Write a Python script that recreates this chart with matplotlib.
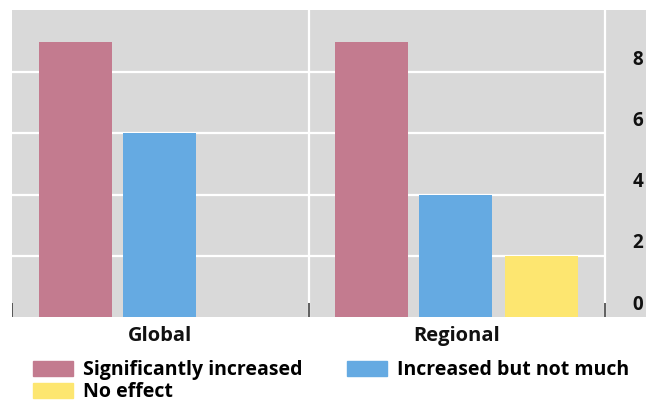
import matplotlib
matplotlib.use('Agg')
from matplotlib import pyplot as plt
from matplotlib.patches import Patch

# Survey results, two panels with three response categories each
groups = ['Global', 'Regional']
series_names = ['Significantly increased', 'Increased but not much', 'No effect']
global_vals = [9, 6, 0]
regional_vals = [9, 4, 2]
yticks = [0, 2, 4, 6, 8]

colors = ['#c37b8f', '#65aae2', '#fde670']
bg = '#d9d9d9'

plt.rcParams['font.family'] = ['Open Sans', 'DejaVu Sans']

fig = plt.figure(figsize=(6.46, 4.05), dpi=100)
ax = fig.add_axes([12/646, (405-317)/405, 634/646, (317-10)/405])
ax.set_facecolor(bg)
ax.set_xlim(0, 2 + 41/296.5)
ax.set_ylim(0, 10.03)
for s in ax.spines.values():
    s.set_visible(False)
ax.set_xticks([])
ax.set_yticks([])

# white gridlines and panel separators
ax.hlines(yticks[1:], 0, 2, color='white', lw=1.6, zorder=1)
ax.vlines([1, 2], 0, 10.03, color='white', lw=1.6, zorder=1)

# bars, one panel per group
offsets = [0.214, 0.497, 0.785]
width = 0.246
for g, vals in enumerate([global_vals, regional_vals]):
    for i, v in enumerate(vals):
        if v > 0:
            ax.bar(g + offsets[i], v, width=width, color=colors[i], zorder=2)
    ax.annotate(groups[g], xy=(g + 0.5, 0), xycoords=('data', 'axes fraction'),
                xytext=(0, -13.5), textcoords='offset points',
                ha='center', va='center', fontsize=14.5, fontweight='bold',
                color='#111111')

# short dark ticks at the panel edges
ax.vlines([0, 1, 2], 0, 0.45, color='#333333', lw=1.1, zorder=3)

# y labels sit just above their gridline on the right
for t in yticks:
    ax.annotate(str(t), xy=(2.11, t), xytext=(0, 9), textcoords='offset points',
                ha='center', va='center', fontsize=13.5, fontweight='bold',
                color='#111111')

handles = [Patch(color=colors[0]), Patch(color=colors[2]), Patch(color=colors[1])]
labels = [series_names[0], series_names[2], series_names[1]]
fig.legend(handles, labels, loc='upper left', bbox_to_anchor=(33/646, 1 - 360/405),
           ncol=2, frameon=False, borderpad=0, borderaxespad=0,
           handlelength=2.06, handleheight=0.82, handletextpad=0.5,
           labelspacing=0.1, columnspacing=2.3,
           prop={'size': 14, 'weight': 'bold'})

fig.savefig('out.png', dpi=100, facecolor='white')
